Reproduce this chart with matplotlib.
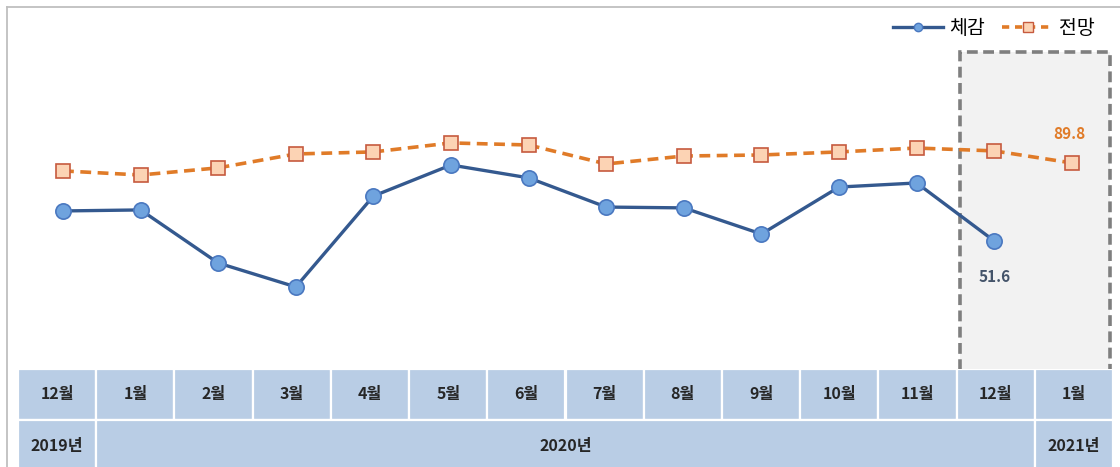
import matplotlib.pyplot as plt
from matplotlib.patches import Rectangle
from matplotlib.lines import Line2D
import matplotlib.transforms as mtransforms

plt.rcParams['font.family'] = ['Noto Sans CJK KR', 'DejaVu Sans']

# data
months = ['12월', '1월', '2월', '3월', '4월', '5월', '6월', '7월', '8월', '9월', '10월', '11월', '12월', '1월']
years = ['2019년', '2020년', '2021년']
year_spans = [(0, 1), (1, 13), (13, 14)]   # column ranges for each year
felt = [66.3, 66.8, 40.8, 29.1, 73.6, 88.8, 82.5, 68.2, 67.8, 55.0, 78.0, 80.0, 51.6]
outlook = [85.9, 83.9, 87.4, 94.2, 95.2, 99.6, 98.6, 89.3, 93.2, 93.7, 95.2, 97.1, 95.7, 89.8]

W, H = 1120, 467
fig = plt.figure(figsize=(W / 100, H / 100), dpi=100)

def px_axes(x0, y0, x1, y1):
    return fig.add_axes([x0 / W, 1 - y1 / H, (x1 - x0) / W, (y1 - y0) / H])

# chart area
ax = px_axes(18, 40, 1113, 368)
ax.set_xlim(-0.58, 13.53)
ax.set_ylim(-10.6, 150)
ax.axis('off')

# highlighted forecast box (bottom edge hidden under the table)
trans = mtransforms.blended_transform_factory(ax.transData, ax.transAxes)
ax.add_patch(Rectangle((11.56, -0.008), 13.49 - 11.56, 0.971, transform=trans,
                       facecolor='#f2f2f2', edgecolor='#7f7f7f', lw=2.6,
                       ls=(0, (3, 1.5)), zorder=0, clip_on=False))

x_felt = range(len(felt))
x_out = range(len(outlook))
ax.plot(x_felt, felt, color='#34598f', lw=2.4, marker='o', ms=11,
        mfc='#6fa3de', mec='#4a78c0', mew=1.2, zorder=3)
ax.plot(x_out, outlook, color='#e07b28', lw=2.6, ls=(0, (3, 1.8)), marker='s', ms=10.5,
        mfc='#fcd3b4', mec='#c65a3e', mew=1.2, zorder=3)

ax.annotate(f'{felt[-1]}', (len(felt) - 1, felt[-1]), xytext=(0, -26), textcoords='offset points',
            ha='center', va='center', fontsize=11, fontweight='bold', color='#44546a')
ax.annotate(f'{outlook[-1]}', (len(outlook) - 1, outlook[-1]), xytext=(-2, 21), textcoords='offset points',
            ha='center', va='center', fontsize=11, fontweight='bold', color='#e07b28')

# legend
leg_handles = [
    Line2D([], [], color='#34598f', lw=2.4, marker='o', ms=6, mfc='#6fa3de', mec='#4a78c0'),
    Line2D([], [], color='#e07b28', lw=2.6, ls=(0, (2, 1.6)), marker='s', ms=7, mfc='#fcd3b4', mec='#c65a3e'),
]
fig.legend(leg_handles, ['체감', '전망'], loc='upper right', bbox_to_anchor=(1108 / W, 1 - 4 / H),
           ncol=2, frameon=False, fontsize=14, handlelength=2.6, columnspacing=0.9,
           handletextpad=0.3, borderpad=0.2)

# table below
tax = px_axes(18, 369, 1113, 471)
tax.set_xlim(0, len(months))
tax.set_ylim(2, 0)
tax.axis('off')
cell_kw = dict(facecolor='#b9cde5', edgecolor='white', lw=1.6)
for i, m in enumerate(months):
    tax.add_patch(Rectangle((i, 0), 1, 1, **cell_kw))
    tax.text(i + 0.5, 0.5, m, ha='center', va='center', fontsize=11.5,
             fontweight='bold', color='#262626')
for (a, b), y in zip(year_spans, years):
    tax.add_patch(Rectangle((a, 1), b - a, 1, **cell_kw))
    tax.text((a + b) / 2, 1.5, y, ha='center', va='center', fontsize=11.5,
             fontweight='bold', color='#262626')

# outer frame lines (left and top)
fig.add_artist(Line2D([6.5 / W, 6.5 / W], [0, 1 - 7 / H], color='#bfbfbf', lw=1.3))
fig.add_artist(Line2D([6.5 / W, 1], [1 - 7 / H, 1 - 7 / H], color='#bfbfbf', lw=1.3))

fig.savefig('out.png', dpi=100)
